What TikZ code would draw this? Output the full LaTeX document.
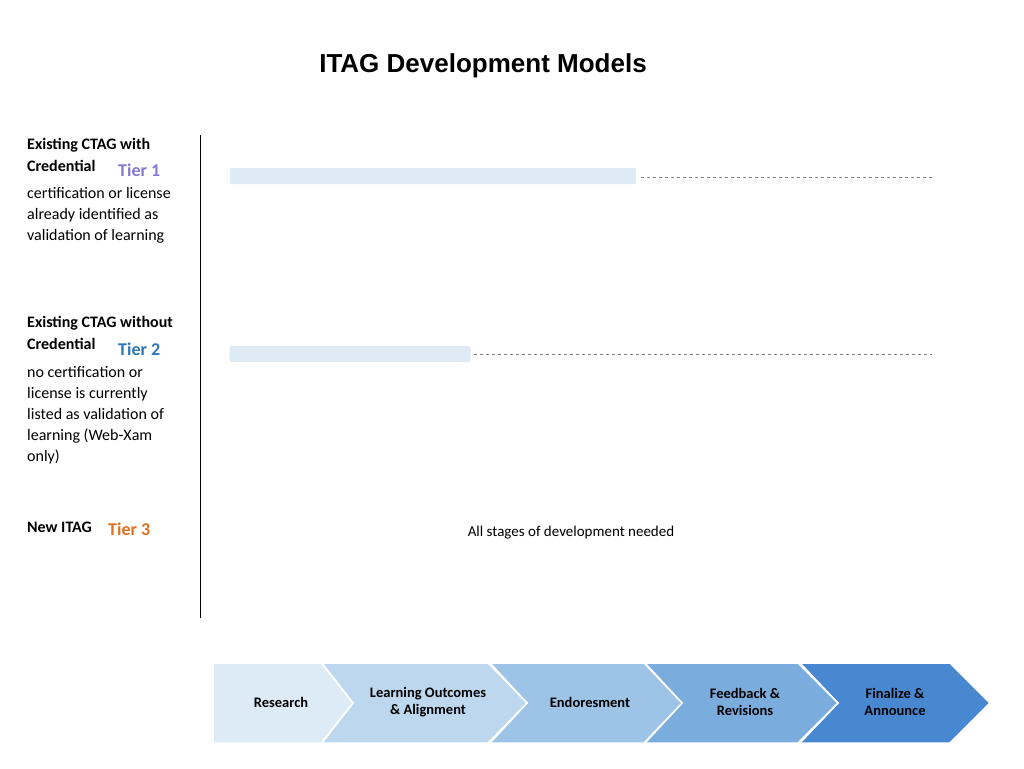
\documentclass[tikz,border=0pt]{standalone}
\usepackage{fontspec}
\setmainfont{Carlito}
\newfontfamily\titlefont{Liberation Sans}
\usetikzlibrary{positioning}
\definecolor{tierone}{HTML}{8478D2}
\definecolor{tiertwo}{HTML}{2E75B6}
\definecolor{tierthree}{HTML}{E07020}
\definecolor{barblue}{HTML}{DEEAF6}
\definecolor{stepA}{HTML}{DDEBF7}
\definecolor{stepB}{HTML}{BDD7EE}
\definecolor{stepC}{HTML}{9DC3E6}
\definecolor{stepD}{HTML}{7AACDD}
\definecolor{stepE}{HTML}{4788D0}
\tikzset{
  heading/.style={anchor=west,font=\fontsize{16}{21}\selectfont\bfseries,align=left,inner sep=0pt},
  desc/.style={anchor=north west,font=\fontsize{16}{21}\selectfont,align=left,inner sep=0pt},
  tier/.style={anchor=west,font=\fontsize{18}{21}\selectfont\bfseries,inner sep=0pt},
  bar/.style={fill=barblue,rounded corners=2pt},
  guide/.style={dashed,gray,line width=0.8pt},
  steplabel/.style={font=\fontsize{14.5}{17}\selectfont\bfseries,align=center},
}
\begin{document}
\begin{tikzpicture}[x=1pt,y=-1pt]
    \useasboundingbox (0,0) rectangle (1024,768);
    \node[font=\titlefont\fontsize{26}{30}\selectfont\bfseries] (title) at (483,66) {ITAG Development Models};
    \draw[line width=1pt] (200,135) -- (200,618);
    % tier 1
    \node[heading] (h1a) at (27,145) {Existing CTAG with};
    \node[heading] (h1b) at (27,166) {Credential};
    \node[tier,text=tierone] (t1) at (118,170) {Tier 1};
    \node[desc] (d1) at (27,187) {certification or license\\already identified as\\validation of learning};
    \node[bar,minimum width=406,minimum height=16,inner sep=0pt] (b1) at (433,176) {};
    \coordinate (e1) at (932,177);
    \draw[guide] (b1.east |- e1) ++(5,0) -- (e1);
    % tier 2
    \node[heading] (h2a) at (27,323) {Existing CTAG without};
    \node[heading] (h2b) at (27,344) {Credential};
    \node[tier,text=tiertwo] (t2) at (118,349) {Tier 2};
    \node[desc] (d2) at (27,366) {no certification or\\license is currently\\listed as validation of\\learning (Web-Xam\\only)};
    \node[bar,minimum width=241,minimum height=16,inner sep=0pt] (b2) at (350,354) {};
    \coordinate (e2) at (932,354);
    \draw[guide] (b2.east |- e2) ++(3,0) -- (e2);
    % tier 3
    \node[heading] (h3) at (27,527) {New ITAG};
    \node[tier,text=tierthree] (t3) at (108,529) {Tier 3};
    \node[font=\fontsize{15}{18}\selectfont] (all) at (571,533) {All stages of development needed};
    % stages
    \fill[stepE,draw=white,line width=1.5pt] (800,663) -- (950,663) -- (990,703) -- (950,743) -- (800,743) -- (838,703) -- cycle;
    \fill[stepD,draw=white,line width=1.5pt] (645,663) -- (798,663) -- (838,703) -- (798,743) -- (645,743) -- (682,703) -- cycle;
    \fill[stepC,draw=white,line width=1.5pt] (490,663) -- (644,663) -- (682,703) -- (644,743) -- (490,743) -- (527,703) -- cycle;
    \fill[stepB,draw=white,line width=1.5pt] (322,663) -- (488,663) -- (527,703) -- (488,743) -- (322,743) -- (353,703) -- cycle;
    \fill[stepA,draw=white,line width=1.5pt] (213,663) -- (321,663) -- (353,703) -- (321,743) -- (213,743) -- cycle;
    \node[steplabel] (s1) at (281,702) {Research};
    \node[steplabel] (s2) at (428,702) {Learning Outcomes\\\& Alignment};
    \node[steplabel] (s3) at (590,702) {Endoresment};
    \node[steplabel] (s4) at (745,702) {Feedback \&\\Revisions};
    \node[steplabel] (s5) at (895,702) {Finalize \&\\Announce};
\end{tikzpicture}
\end{document}
